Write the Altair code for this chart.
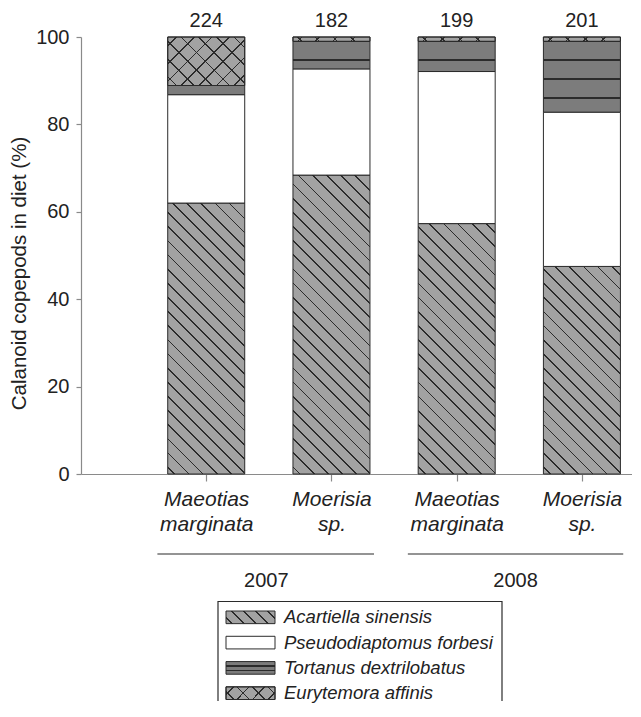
import math
import altair as alt
import pandas as pd

# ---------------- data ----------------
bar_pos = [1, 2, 3, 4]
genus = ["Maeotias", "Moerisia", "Maeotias", "Moerisia"]
epithet = ["marginata", "sp.", "marginata", "sp."]
counts = [224, 182, 199, 201]
years = ["2007", "2008"]
species = ["Acartiella sinensis", "Pseudodiaptomus forbesi",
           "Tortanus dextrilobatus", "Eurytemora affinis"]
acartiella = [62.0, 68.4, 57.3, 47.5]
pseudodiaptomus = [24.8, 24.3, 34.8, 35.3]
tortanus = [2.1, 6.3, 6.9, 16.2]
eurytemora = [11.1, 1.0, 1.0, 1.0]

# year group spans (axis units) and label centres
year_start = [0.61, 2.61]
year_end = [2.34, 4.33]
year_mid = [1.48, 3.47]

# ---------------- layout / style ----------------
W, H = 551, 437
X_MAX = 4.40
BAR_W = 77
PX = H / 100.0
INK = "#2b2b2b"
TXT = "#222222"
AXC = "#8a8a8a"
GREY = "#a2a2a2"
DARK = "#7c7c7c"
CLEAR = "rgba(0,0,0,0)"


def _stop(o, c):
    return {"offset": round(min(max(o, 0.0), 1.0), 5), "color": c}


def _stripes(bg, fg, length, spacing, lw, phase):
    stops = [_stop(0, bg)]
    pos = phase
    while pos + lw / 2 < length - 1:
        a = (pos - lw / 2) / length
        b = (pos + lw / 2) / length
        stops += [_stop(a, bg), _stop(a, fg), _stop(b, fg), _stop(b, bg)]
        pos += spacing
    stops.append(_stop(1, bg))
    return stops


def diag(w, h, bg, fg, spacing, lw, back=True):
    L = (w + h) / math.sqrt(2)
    k = (w + h) / (w * w + h * h)
    if back:
        g = {"gradient": "linear", "x1": 0, "y1": 1, "x2": k * w, "y2": 1 - k * h}
    else:
        g = {"gradient": "linear", "x1": 0, "y1": 0, "x2": k * w, "y2": k * h}
    g["stops"] = _stripes(bg, fg, L, spacing, lw, spacing * 0.5)
    return g


def horiz(h, bg, fg, spacing, lw):
    g = {"gradient": "linear", "x1": 0, "y1": 0, "x2": 0, "y2": 1}
    g["stops"] = _stripes(bg, fg, h, spacing, lw, spacing)
    return g


def fills(j, w, h, legend=False):
    """returns (base fill, optional overlay fill)"""
    if j == 0:
        return diag(w, h, GREY, INK, 8.5 if legend else 10, 1.2), None
    if j == 1:
        return "white", None
    if j == 2:
        return horiz(h, DARK, INK, 4.4 if legend else 19, 1.1 if legend else 1.8), None
    sp = 11 if legend else 12.5
    return (diag(w, h, GREY, INK, sp, 1.1),
            diag(w, h, CLEAR, INK, sp, 1.1, back=False))


# ---------------- main chart ----------------
rows = []
for i, xp in enumerate(bar_pos):
    vals = [acartiella[i], pseudodiaptomus[i], tortanus[i], eurytemora[i]]
    bottom = 0.0
    for j, v in enumerate(vals):
        rows.append({"x": xp, "bar": i, "sp": j, "y0": round(bottom, 3),
                     "y1": round(min(bottom + v, 100.0), 3), "pct": v})
        bottom += v
seg_df = pd.DataFrame(rows)

label_expr = " : ".join(
    f"datum.value == {p} ? ['{g}', '{e}']" for p, g, e in zip(bar_pos, genus, epithet)
) + " : ''"

xscale = alt.Scale(domain=[0, X_MAX], nice=False, zero=False, padding=0)
yscale = alt.Scale(domain=[0, 100], nice=False, padding=0)
xaxis = alt.Axis(values=bar_pos, labelExpr=label_expr, grid=False, tickSize=7,
                 labelPadding=7, labelFontSize=21, labelFontStyle="italic",
                 labelLineHeight=25, labelColor=TXT, domainColor=AXC, tickColor=AXC,
                 domainWidth=1.2, tickWidth=1.2, labelFlush=False, labelOverlap=False,
                 title=None)
yaxis = alt.Axis(values=[0, 20, 40, 60, 80, 100], title="Calanoid copepods in diet (%)",
                 grid=False, tickSize=5, tickColor=AXC, domainColor=AXC,
                 domainWidth=1.2, tickWidth=1.2, labelFontSize=20, labelColor=TXT,
                 labelPadding=7, titleFontSize=20.5, titleFontWeight="normal",
                 titleColor=TXT, titleX=-62, titleY=236, titleAngle=270,
                 titleAlign="center", titleBaseline="middle")

base = alt.Chart(seg_df).encode(
    x=alt.X("x:Q", scale=xscale, axis=xaxis),
    y=alt.Y("y0:Q", scale=yscale, axis=yaxis),
    y2="y1:Q",
)

layers = []
for r in rows:
    h = r["pct"] * PX
    f0, f1 = fills(r["sp"], BAR_W, h)
    flt = f"datum.bar == {r['bar']} && datum.sp == {r['sp']}"
    layers.append(base.transform_filter(flt).mark_bar(
        size=BAR_W, fill=f0, stroke=INK, strokeWidth=1))
    if f1 is not None:
        layers.append(base.transform_filter(flt).mark_bar(
            size=BAR_W, fill=f1, stroke=INK, strokeWidth=1))

cnt_df = pd.DataFrame({"x": bar_pos, "n": counts, "top": [100] * 4})
layers.append(alt.Chart(cnt_df).mark_text(
    dy=-16, fontSize=20, color=TXT, baseline="middle").encode(
    x=alt.X("x:Q", scale=xscale, axis=xaxis),
    y=alt.Y("top:Q", scale=yscale, axis=yaxis),
    text="n:Q"))

yr_df = pd.DataFrame({"year": years, "xs": year_start, "xe": year_end, "xc": year_mid})
layers.append(alt.Chart(yr_df).mark_rule(color=INK, strokeWidth=1.2).encode(
    x=alt.X("xs:Q", scale=xscale, axis=xaxis), x2="xe:Q", y=alt.value(517)))
layers.append(alt.Chart(yr_df).mark_text(
    fontSize=20, color=TXT, baseline="middle").encode(
    x=alt.X("xc:Q", scale=xscale, axis=xaxis), y=alt.value(544), text="year:N"))

main = alt.layer(*layers).properties(width=W, height=H)

# ---------------- legend panel ----------------
LH = 100
leg_df = pd.DataFrame({"sp": species, "i": list(range(4))})
leg_y = alt.Y("sp:N", scale=alt.Scale(domain=species, range=[10, 98.5],
                                       paddingInner=0.5, paddingOuter=0),
              axis=None)
lbase = alt.Chart(leg_df)
one = lbase.transform_filter("datum.i == 0")
leg_layers = [
    one.mark_rect(fill="white", strokeWidth=0).encode(
        x=alt.value(137), x2=alt.value(421), y=alt.value(0), y2=alt.value(LH)),
    one.mark_rule(color=INK, strokeWidth=1.2).encode(
        x=alt.value(137), x2=alt.value(421), y=alt.value(0.5)),
    one.mark_rule(color=INK, strokeWidth=1.2).encode(
        x=alt.value(137), y=alt.value(0), y2=alt.value(LH)),
    one.mark_rule(color=INK, strokeWidth=1.2).encode(
        x=alt.value(421), y=alt.value(0), y2=alt.value(LH)),
]
for j in range(4):
    f0, f1 = fills(j, 49, 12.6, legend=True)
    leg_layers.append(lbase.transform_filter(f"datum.i == {j}").mark_rect(
        fill=f0, stroke=INK, strokeWidth=1).encode(
        x=alt.value(145), x2=alt.value(194), y=leg_y))
    if f1 is not None:
        leg_layers.append(lbase.transform_filter(f"datum.i == {j}").mark_rect(
            fill=f1, stroke=INK, strokeWidth=1).encode(
            x=alt.value(145), x2=alt.value(194), y=leg_y))
leg_layers.append(lbase.mark_text(
    align="left", baseline="middle", fontSize=18.5, fontStyle="italic",
    color=TXT).encode(x=alt.value(203), y=leg_y, text="sp:N"))
legend = alt.layer(*leg_layers).properties(width=W, height=LH)

chart = alt.vconcat(main, legend, spacing=9).properties(
    padding={"left": 1, "right": 0, "top": 3, "bottom": 0},
    background="white",
).configure(font="Liberation Sans").configure_view(stroke=None)

chart.save("out.html", embed_options={"renderer": "svg", "actions": False})
